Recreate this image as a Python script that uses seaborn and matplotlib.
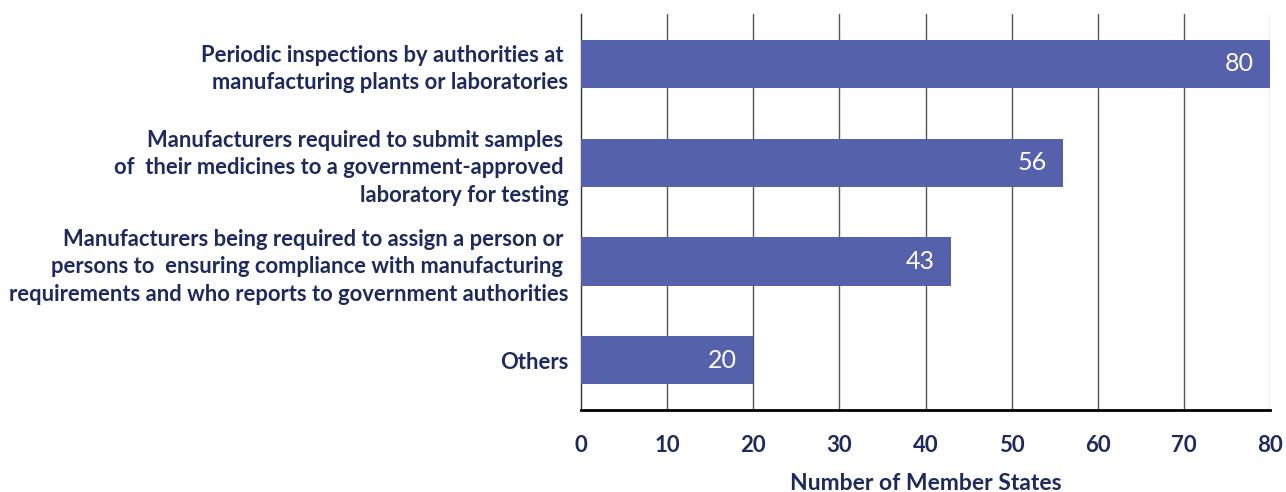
import matplotlib
matplotlib.use("Agg")
import matplotlib.pyplot as plt
import seaborn as sns
import pandas as pd

# Measures reported by Member States
categories = [
    "Periodic inspections by authorities at \nmanufacturing plants or laboratories",
    "Manufacturers required to submit samples \nof  their medicines to a government-approved \nlaboratory for testing",
    "Manufacturers being required to assign a person or \npersons to  ensuring compliance with manufacturing \nrequirements and who reports to government authorities",
    "Others",
]
member_states = [80, 56, 43, 20]
x_ticks = [0, 10, 20, 30, 40, 50, 60, 70, 80]

df = pd.DataFrame({"measure": categories, "count": member_states})

sns.set_theme(style="white")
plt.rcParams["font.family"] = ["Lato", "DejaVu Sans"]

BAR = "#5561AB"
NAVY = "#1F2A5C"

fig = plt.figure(figsize=(12.86, 4.92), dpi=100)
ax = fig.add_axes([0.4518, 0.1667, 0.9876 - 0.4518, 0.9715 - 0.1667])

sns.barplot(data=df, x="count", y="measure", orient="h", color=BAR,
            saturation=1, width=0.485, linewidth=0, ax=ax, zorder=3)

ax.set_xlim(0, 80)
ax.set_ylim(3.5, -0.5)
ax.set_xticks(x_ticks)
ax.set_xticklabels([str(t) for t in x_ticks], fontsize=16, fontweight="bold", color=NAVY)
ax.tick_params(axis="x", length=0, pad=18)
ax.tick_params(axis="y", length=0, pad=9)
for lbl in ax.get_yticklabels():
    lbl.set_fontsize(15.8)
    lbl.set_fontweight("bold")
    lbl.set_color(NAVY)
    lbl.set_linespacing(1.40)
    lbl.set_multialignment("right")

ax.set_ylabel("")
ax.set_xlabel("Number of Member States", fontsize=16.5, fontweight="bold", color=NAVY, labelpad=12)

# vertical gridlines
for t in x_ticks[1:]:
    ax.axvline(t, color="#555555" if t < 80 else "#bbbbbb", lw=1, zorder=1)

for side in ["top", "right"]:
    ax.spines[side].set_visible(False)
ax.spines["left"].set_color("#333333")
ax.spines["left"].set_linewidth(1)
ax.spines["bottom"].set_color("black")
ax.spines["bottom"].set_linewidth(2)

# value labels inside bar ends
for i, v in enumerate(member_states):
    ax.annotate(str(v), xy=(v, i), xytext=(-12, 0), textcoords="offset points",
                ha="right", va="center", color="white", fontsize=18, zorder=4)

fig.savefig("out.png", dpi=100)
